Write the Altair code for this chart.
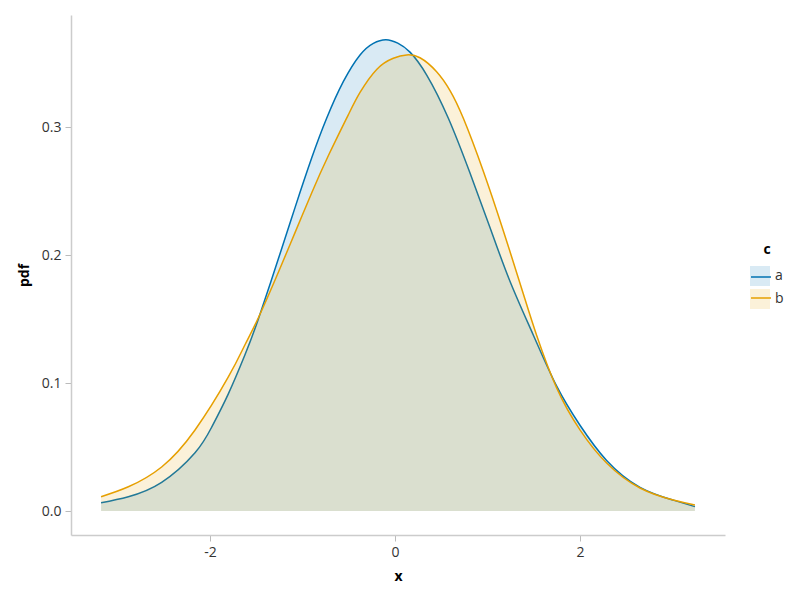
import altair as alt
import pandas as pd

# series "a" (blue)
a_x = [-3.178, -2.883, -2.523, -2.162, -1.982, -1.802, -1.622, -1.477, -1.261, -1.081,
       -0.901, -0.739, -0.559, -0.378, -0.234, -0.097, 0.030, 0.162, 0.343, 0.577,
       0.811, 1.027, 1.243, 1.495, 1.748, 2.000, 2.288, 2.649, 3.009, 3.243]
a_pdf = [0.0065, 0.0112, 0.0224, 0.0455, 0.0655, 0.0915, 0.122, 0.150, 0.197, 0.237,
         0.2757, 0.3068, 0.3354, 0.3563, 0.3654, 0.3682, 0.3655, 0.3585, 0.3406, 0.3068,
         0.264, 0.2215, 0.1795, 0.1375, 0.0975, 0.067, 0.0395, 0.0185, 0.0085, 0.0034]

# series "b" (orange)
b_x = [-3.178, -2.883, -2.523, -2.162, -1.802, -1.622, -1.477, -1.261, -1.081, -0.901,
       -0.721, -0.505, -0.378, -0.198, -0.018, 0.126, 0.270, 0.450, 0.595, 0.739,
       0.955, 1.171, 1.387, 1.532, 1.748, 2.000, 2.288, 2.649, 3.009, 3.243]
b_pdf = [0.0112, 0.0189, 0.0344, 0.0633, 0.1047, 0.1299, 0.151, 0.1865, 0.2175, 0.2485,
         0.2775, 0.3095, 0.327, 0.345, 0.3537, 0.3563, 0.3541, 0.3432, 0.3285, 0.3068,
         0.2655, 0.219, 0.1698, 0.1372, 0.0962, 0.0634, 0.0375, 0.018, 0.0086, 0.0047]

categories = ["a", "b"]
colors = ["#0072B2", "#E69F00"]
x_ticks = [-2, 0, 2]
y_ticks = [0.0, 0.1, 0.2, 0.3]

df_a = pd.DataFrame({"x": a_x, "pdf": a_pdf, "c": "a"})
df_b = pd.DataFrame({"x": b_x, "pdf": b_pdf, "c": "b"})

FONT = "Open Sans"
INTERP = "natural"

xs = alt.Scale(domain=[-3.503, 3.568], nice=False, zero=False)
ys = alt.Scale(domain=[-0.01875, 0.3875], nice=False, zero=False)

xenc = alt.X("x:Q", scale=xs, title="x",
             axis=alt.Axis(values=x_ticks,
                           labelExpr="datum.value < 0 ? '-' + abs(datum.value) : '' + datum.value"))
yenc = alt.Y("pdf:Q", scale=ys, title="pdf",
             axis=alt.Axis(values=y_ticks, format=".1f"))

LEG_X = 679
LEG_Y = 228
TITLE_BLOCK = 23  # title height + title padding

fill_enc = alt.Fill(
    "c:N", scale=alt.Scale(domain=categories, range=colors),
    legend=alt.Legend(title="c", orient="none", legendX=LEG_X, legendY=LEG_Y,
                      titleAnchor="middle", rowPadding=3, labelOffset=5,
                      titlePadding=9, padding=0, symbolSize=400,
                      symbolType="square", symbolOpacity=0.15, symbolStrokeWidth=0))
stroke_enc = alt.Stroke(
    "c:N", scale=alt.Scale(range=colors),
    legend=alt.Legend(title=None, orient="none", legendX=LEG_X, legendY=LEG_Y + TITLE_BLOCK,
                      rowPadding=3, labelOffset=5, padding=0, symbolSize=400,
                      symbolType="stroke", symbolStrokeWidth=1.5, labelExpr="''"))


def area(df):
    return alt.Chart(df).mark_area(fillOpacity=0.15, interpolate=INTERP).encode(
        x=xenc, y=yenc, y2=alt.datum(0), fill=fill_enc)


def line(df):
    return alt.Chart(df).mark_line(strokeWidth=1.5, interpolate=INTERP).encode(
        x=xenc, y=yenc, stroke=stroke_enc)


chart = alt.layer(area(df_a), line(df_a), area(df_b), line(df_b)).properties(
    width=654, height=520,
    autosize=alt.AutoSizeParams(type="none"),
    padding={"left": 63, "top": 7, "right": 60, "bottom": 60},
).configure_view(stroke=None).configure_axis(
    grid=False,
    domainColor="#cccccc",
    domainWidth=1.5,
    tickColor="#bbbbbb",
    tickSize=6,
    labelFont=FONT,
    labelFontSize=14,
    labelColor="#333333",
    titleFont=FONT,
    titleFontSize=14,
    titleFontWeight="bold",
    titleColor="#000000",
    labelPadding=4,
).configure_axisX(titlePadding=10).configure_axisY(titlePadding=10).configure_legend(
    titleFont=FONT,
    titleFontSize=14,
    titleFontWeight="bold",
    labelFont=FONT,
    labelFontSize=14,
    labelColor="#333333",
    titleColor="#000000",
)

chart.save("out.html", embed_options={"renderer": "svg", "actions": False})
